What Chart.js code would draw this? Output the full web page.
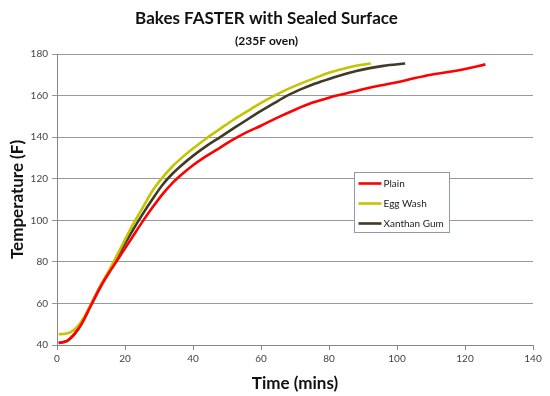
<!DOCTYPE html>
<html>
<head>
<meta charset="utf-8">
<script src="https://cdn.jsdelivr.net/npm/chart.js@4.4.1/dist/chart.umd.min.js"></script>
<style>
  html, body { margin: 0; padding: 0; background: #fff; }
  #wrap { width: 550px; height: 396px; }
</style>
</head>
<body>
<div id="wrap"><canvas id="bakeChart" width="550" height="396"></canvas></div>
<script>
// Series data (time in mins, temperature in F)
const seriesNames = ['Plain', 'Egg Wash', 'Xanthan Gum'];
const seriesColors = ['#ff0000', '#c4c400', '#3f3b27'];

const plainTime = [0.5, 3, 5, 7, 10, 13, 16, 19, 22, 25, 28, 31, 34, 37, 40, 44, 48, 52, 56, 60, 65, 70, 75, 80, 85, 90, 95, 100, 105, 110, 115, 120, 126];
const plainTemp = [41, 42, 45, 49.5, 59, 68.5, 76.5, 84, 91.5, 99, 106, 112.5, 118, 122.5, 126.5, 131, 135, 139, 142.5, 145.5, 149.5, 153.2, 156.5, 159, 161, 163, 164.8, 166.4, 168.3, 170, 171.3, 172.8, 175];

const eggTime = [0.5, 2, 4, 6, 8, 10, 13, 16, 19, 22, 25, 28, 31, 34, 37, 40, 44, 48, 52, 56, 60, 64, 68, 72, 76, 80, 84, 88, 92.3];
const eggTemp = [45.2, 45.3, 46.2, 48.8, 53.5, 59.5, 69, 78, 87.5, 97, 105.5, 114, 120.5, 126, 130.5, 134.5, 139.5, 144, 148.5, 152.5, 156.5, 160, 163.2, 166, 168.5, 171, 172.8, 174.3, 175.4];

const xanthanTime = [0.5, 3, 5, 7, 10, 13, 16, 19, 22, 25, 28, 31, 34, 37, 40, 44, 48, 52, 56, 60, 64, 68, 72, 76, 80, 84, 88, 92, 96, 102.4];
const xanthanTemp = [41, 42, 45, 49.8, 59.5, 69, 77.5, 86, 94.5, 102.5, 110, 117, 122.5, 127, 131, 135.8, 140, 144.3, 148.5, 152.6, 156.5, 160.2, 163.2, 165.8, 168, 170, 171.8, 173.2, 174.3, 175.4];

const xTicks = [0, 20, 40, 60, 80, 100, 120, 140];
const yTicks = [40, 60, 80, 100, 120, 140, 160, 180];

function toPoints(xs, ys) {
  return xs.map((x, i) => ({ x: x, y: ys[i] }));
}

const allTimes = [plainTime, eggTime, xanthanTime];
const allTemps = [plainTemp, eggTemp, xanthanTemp];

const datasets = seriesNames.map((name, i) => ({
  label: name,
  data: toPoints(allTimes[i], allTemps[i]),
  borderColor: seriesColors[i],
  backgroundColor: seriesColors[i],
  borderWidth: 2.6,
  pointRadius: 0,
  cubicInterpolationMode: 'monotone',
  fill: false
}));

// draws the boxed legend inside the plot, like the spreadsheet one
const boxLegend = {
  id: 'boxLegend',
  afterDraw(chart) {
    const ctx = chart.ctx;
    const area = chart.chartArea;
    const left = Math.round(area.left + 0.624 * (area.right - area.left)) + 0.5;
    const top = Math.round(area.top + 0.405 * (area.bottom - area.top)) + 0.5;
    const w = 95, h = 60;
    ctx.save();
    ctx.fillStyle = '#fff';
    ctx.fillRect(left, top, w, h);
    ctx.strokeStyle = '#8f9aa8';
    ctx.lineWidth = 1;
    ctx.strokeRect(left, top, w, h);
    ctx.font = '10px Lato, "Open Sans", sans-serif';
    ctx.textBaseline = 'middle';
    chart.data.datasets.forEach((ds, i) => {
      const y = top + 11 + i * 20;
      ctx.strokeStyle = ds.borderColor;
      ctx.lineWidth = 2.6;
      ctx.beginPath();
      ctx.moveTo(left + 4, y);
      ctx.lineTo(left + 27, y);
      ctx.stroke();
      ctx.fillStyle = '#222';
      ctx.fillText(ds.label, left + 29, y);
    });
    ctx.restore();
  }
};

const ctx = document.getElementById('bakeChart').getContext('2d');
const bakeChart = new Chart(ctx, {
  type: 'line',
  data: { datasets: datasets },
  options: {
    responsive: false,
    animation: false,
    layout: { padding: { left: 0, right: 17, top: 0, bottom: 0 } },
    plugins: {
      legend: { display: false },
      tooltip: { enabled: false },
      title: {
        display: true,
        text: 'Bakes FASTER with Sealed Surface',
        color: '#111',
        font: { family: 'Lato', size: 17, weight: 'bold', lineHeight: 1.2 },
        padding: { top: 8.5, bottom: 3.3 }
      },
      subtitle: {
        display: true,
        text: '(235F oven)',
        color: '#111',
        font: { family: 'Lato', size: 12, weight: 'bold', lineHeight: 1.2 },
        padding: { top: 1.5, bottom: 5.9 }
      }
    },
    scales: {
      x: {
        type: 'linear',
        min: 0,
        max: 140,
        afterBuildTicks: (scale) => { scale.ticks = xTicks.map(v => ({ value: v })); },
        afterFit: (scale) => { scale.height = 51; },
        grid: { drawOnChartArea: false, drawTicks: true, tickLength: 5, color: '#888' },
        border: { display: true, color: '#888' },
        ticks: { color: '#444', font: { family: 'Lato', size: 10 }, padding: 3, maxRotation: 0 },
        title: {
          display: true,
          text: 'Time (mins)',
          color: '#111',
          font: { family: 'Lato', size: 17, weight: 'bold' },
          padding: { top: 4, bottom: 2 }
        }
      },
      y: {
        type: 'linear',
        min: 40,
        max: 180,
        afterBuildTicks: (scale) => { scale.ticks = yTicks.map(v => ({ value: v })); },
        afterFit: (scale) => { scale.width = 57; },
        grid: { drawOnChartArea: true, drawTicks: true, tickLength: 5, color: '#999' },
        border: { display: true, color: '#888' },
        ticks: { color: '#444', font: { family: 'Lato', size: 10 }, padding: 4 },
        title: {
          display: true,
          text: 'Temperature (F)',
          color: '#111',
          font: { family: 'Lato', size: 17, weight: 'bold' },
          padding: { top: 7.8, bottom: 0 }
        }
      }
    }
  },
  plugins: [boxLegend]
});
</script>
</body>
</html>
